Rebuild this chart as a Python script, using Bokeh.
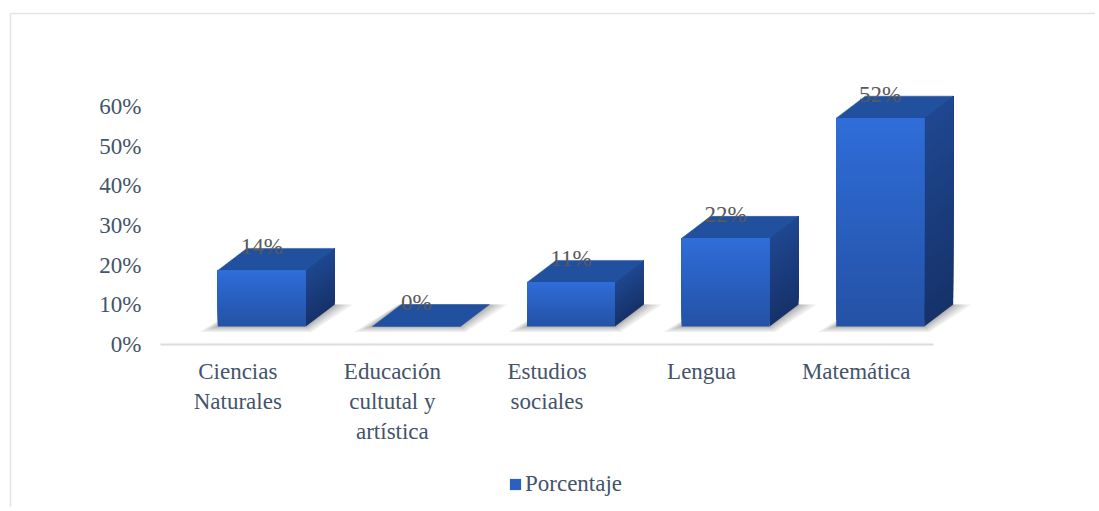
from bokeh.plotting import figure
from bokeh.models import Range1d, Legend, LegendItem
from bokeh.core.properties import value
from bokeh.embed import file_html
from bokeh.resources import INLINE

# ---- data ----
categories = ["Ciencias Naturales", "Educación cultutal y artística", "Estudios sociales", "Lengua", "Matemática"]
tick_labels = ["Ciencias\nNaturales", "Educación\ncultutal y\nartística", "Estudios\nsociales", "Lengua", "Matemática"]
values = [0.14, 0.00, 0.11, 0.22, 0.52]
value_labels = ["14%", "0%", "11%", "22%", "52%"]
y_ticks = [0, 0.1, 0.2, 0.3, 0.4, 0.5, 0.6]
y_tick_labels = ["0%", "10%", "20%", "30%", "40%", "50%", "60%"]
series_name = "Porcentaje"

# ---- style / geometry constants ----
FONT = "Liberation Serif"
AXIS_TEXT = "#44546A"
LABEL_TEXT = "#595959"
FRONT_TOP, FRONT_BOT = "#2F6DD8", "#2452A6"
TOP_FACE = "#21509F"
SIDE_TOP, SIDE_BOT = "#1F4790", "#16326A"
PX_X = 154.6          # px per category
PX_Y = 396.67         # px per unit (100%)
X0, Y0 = 160, 344     # page position of the axes origin
OX, OY = 0, 0         # page position of the canvas
W, H = 1095, 507
FRONT_L = -20 / PX_X
FRONT_R = 68 / PX_X
BASE = 18 / PX_Y
FRONT_SCALE = 1.01    # perspective: the front face is slightly nearer
DX = 29 / PX_X
DY = 22 / PX_Y
N = 30

def ux(px):  # page x -> data x
    return (px - X0) / PX_X

def uy(py):  # page y -> data y
    return (Y0 - py) / PX_Y

def rgb(c):
    c = c.lstrip("#")
    return [int(c[i:i + 2], 16) for i in (0, 2, 4)]

def lerp(c1, c2, t):
    a, b = rgb(c1), rgb(c2)
    return "#%02x%02x%02x" % tuple(int(round(x + (y - x) * t)) for x, y in zip(a, b))

p = figure(width=W, height=H, output_backend="svg", toolbar_location=None,
           x_range=Range1d(ux(OX), ux(OX + W)), y_range=Range1d(uy(OY + H), uy(OY)),
           min_border=0, background_fill_color="white", border_fill_color="white",
           outline_line_color=None)
p.axis.visible = False
p.grid.visible = False

centers = [i + 0.5 for i in range(len(categories))]
heights = [v * FRONT_SCALE for v in values]

# chart area border (top and left)
p.segment(x0=[ux(10), ux(10)], y0=[uy(13), uy(13)], x1=[ux(1200), ux(10)], y1=[uy(13), uy(600)],
          line_color="#E2E4E8", line_width=1.5)

# category axis line
p.segment(x0=[0], y0=[0], x1=[len(categories)], y1=[0], line_color="#D9DCE1", line_width=2)

# shadows
sx, sy = [], []
for c, h in zip(centers, heights):
    l, r = c + FRONT_L, c + FRONT_R
    for e in (18, 14, 10, 7, 4, 2):
        ex, ey = e / PX_X, e * 0.3 / PX_Y
        sx.append([l - ex, r + ex * 0.3, r + DX + ex, l + DX - ex * 0.2])
        sy.append([BASE - ey, BASE - ey, BASE + DY, BASE + DY])
p.patches(sx, sy, fill_color="#666666", fill_alpha=0.1, line_color=None)

# side faces (gradient, painted bottom-up so strips overlap without seams)
px_, py_, pc_ = [], [], []
for c, h in zip(centers, heights):
    r = c + FRONT_R
    top = BASE + h
    if h <= 0:
        continue
    for k in range(N):
        y0 = BASE + h * k / N
        px_.append([r, r, r + DX, r + DX])
        py_.append([y0, top, top + DY, y0 + DY])
        pc_.append(lerp(SIDE_BOT, SIDE_TOP, k / (N - 1)))
p.patches(px_, py_, fill_color=pc_, line_color=None)

# top faces
tx, ty = [], []
for c, h in zip(centers, heights):
    l, r = c + FRONT_L, c + FRONT_R
    top = BASE + h
    tx.append([l, r, r + DX, l + DX])
    ty.append([top, top, top + DY, top + DY])
p.patches(tx, ty, fill_color=TOP_FACE, line_color=TOP_FACE, line_width=0.5)

# front faces (vertical gradient)
ql, qr, qb, qt, qc = [], [], [], [], []
for c, h in zip(centers, heights):
    if h <= 0:
        continue
    for k in range(N):
        ql.append(c + FRONT_L)
        qr.append(c + FRONT_R)
        qb.append(BASE + h * k / N)
        qt.append(BASE + h)
        qc.append(lerp(FRONT_BOT, FRONT_TOP, k / (N - 1)))
front_r = p.quad(left=ql, right=qr, bottom=qb, top=qt, fill_color=qc, line_color=None)

# data labels
p.text(x=[c + (FRONT_L + FRONT_R) / 2 for c in centers], y=[BASE + h + DY for h in heights],
       text=value_labels, text_align="center", text_baseline="middle", y_offset=-2,
       text_font=value(FONT), text_font_size="23px", text_color=LABEL_TEXT)

# y tick labels
p.text(x=[ux(141)] * len(y_ticks), y=y_ticks, text=y_tick_labels,
       text_align="right", text_baseline="middle",
       text_font=value(FONT), text_font_size="23px", text_color=AXIS_TEXT)

# category labels
p.text(x=centers, y=[uy(358)] * len(centers), text=tick_labels,
       text_align="center", text_baseline="top", text_line_height=1.2,
       text_font=value(FONT), text_font_size="23px", text_color=AXIS_TEXT)

# legend
legend = Legend(items=[LegendItem(label=series_name, renderers=[front_r], index=N // 2)],
                orientation="horizontal", location=(508 - OX, OY + H - 497),
                label_text_font=FONT, label_text_font_size="23px", label_text_color=AXIS_TEXT,
                glyph_width=14, glyph_height=14, label_standoff=3, padding=0, spacing=0,
                margin=0, border_line_color=None, background_fill_alpha=0)
p.add_layout(legend)

open("out.html", "w").write(file_html(p, INLINE))
